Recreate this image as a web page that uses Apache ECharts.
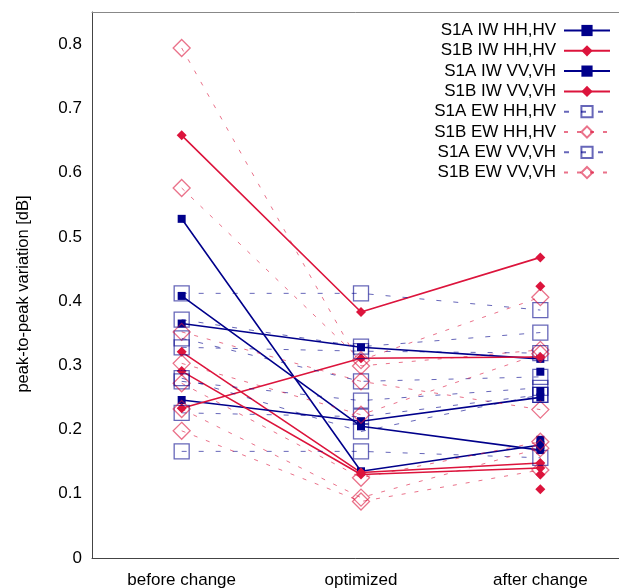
<!DOCTYPE html>
<html>
<head>
<meta charset="utf-8">
<script src="https://cdn.jsdelivr.net/npm/echarts@6/dist/echarts.min.js"></script>
<style>
html, body { margin: 0; padding: 0; background: #fff; }
#chart { width: 619px; height: 588px; }
</style>
</head>
<body>
<div id="chart"></div>
<script>
var categories = ['before change', 'optimized', 'after change'];

// one row per line: [before change, optimized, after change]
var s1aIwHH = [
	[0.528, 0.135, 0.176],
	[0.365, 0.328, 0.310],
	[null, null, 0.290]
];
var s1bIwHH = [
	[0.658, 0.383, 0.468],
	[0.321, 0.133, 0.148],
	[null, null, 0.423]
];
var s1aIwVV = [
	[0.408, 0.205, 0.168],
	[0.246, 0.213, 0.250],
	[null, null, 0.260],
	[null, null, 0.184]
];
var s1bIwVV = [
	[0.291, 0.130, 0.140],
	[0.233, 0.311, 0.313],
	[null, null, 0.130],
	[null, null, 0.107]
];
var s1aEwHH = [
	[0.412, 0.412, 0.386],
	[0.342, 0.275, 0.282],
	[0.275, 0.245, 0.265],
	[0.166, 0.166, 0.156]
];
var s1bEwHH = [
	[0.794, 0.299, 0.324],
	[0.352, 0.275, 0.231],
	[0.272, 0.125, 0.181],
	[0.198, 0.088, 0.137]
];
var s1aEwVV = [
	[0.371, 0.329, 0.351],
	[0.328, 0.322, 0.319],
	[0.226, 0.220, 0.254],
	[0.280, 0.197, 0.254]
];
var s1bEwVV = [
	[0.576, 0.308, 0.406],
	[0.303, 0.223, 0.318],
	[0.232, 0.094, 0.171]
];

var blue = '#00008b';
var red = '#dc143c';
var fontName = '"Liberation Sans", Arial, sans-serif';

var styles = {
	iwBlue: {symbol: 'rect', size: 8, color: blue, width: 1.6, type: 'solid', fill: blue, opacity: 1},
	iwRed: {symbol: 'diamond', size: 10, color: red, width: 1.6, type: 'solid', fill: red, opacity: 1},
	ewBlue: {symbol: 'rect', size: 15, color: blue, width: 1, type: [5, 12], fill: 'rgba(0,0,0,0)', opacity: 0.6},
	ewRed: {symbol: 'diamond', size: 17, color: red, width: 1, type: [4, 9], fill: 'rgba(0,0,0,0)', opacity: 0.6}
};

function makeSeries(name, lines, st){
	return lines.map(function(vals){
		return {
			name: name,
			type: 'line',
			data: vals,
			connectNulls: false,
			symbol: st.symbol,
			symbolSize: st.size,
			showAllSymbol: true,
			lineStyle: {color: st.color, width: st.width, type: st.type, opacity: st.opacity},
			itemStyle: {color: st.fill, borderColor: st.color, borderWidth: st.fill === st.color ? 0 : 1.3, opacity: st.opacity},
			emphasis: {disabled: true}
		};
	});
}

var series = [].concat(
	makeSeries('S1A IW HH,HV', s1aIwHH, styles.iwBlue),
	makeSeries('S1B IW HH,HV', s1bIwHH, styles.iwRed),
	makeSeries('S1A IW VV,VH', s1aIwVV, styles.iwBlue),
	makeSeries('S1B IW VV,VH', s1bIwVV, styles.iwRed),
	makeSeries('S1A EW HH,HV', s1aEwHH, styles.ewBlue),
	makeSeries('S1B EW HH,HV', s1bEwHH, styles.ewRed),
	makeSeries('S1A EW VV,VH', s1aEwVV, styles.ewBlue),
	makeSeries('S1B EW VV,VH', s1bEwVV, styles.ewRed)
);

var chart = echarts.init(document.getElementById('chart'));
var option = {
	backgroundColor: '#fff',
	animation: false,
	textStyle: {fontFamily: fontName},
	// plot frame runs past the right edge of the picture
	grid: {left: 92, right: -11, top: 12, bottom: 30, show: false, outerBoundsMode: 'none', containLabel: false},
	legend: {
		orient: 'vertical',
		right: 3,
		top: 17,
		align: 'right',
		itemWidth: 46,
		itemHeight: 14,
		itemGap: 3.3,
		textStyle: {fontSize: 17, color: '#000', fontFamily: fontName, padding: [0, 3, 0, 0]},
		data: ['S1A IW HH,HV', 'S1B IW HH,HV', 'S1A IW VV,VH', 'S1B IW VV,VH',
			'S1A EW HH,HV', 'S1B EW HH,HV', 'S1A EW VV,VH', 'S1B EW VV,VH']
	},
	xAxis: [
		{
			type: 'category',
			data: categories,
			boundaryGap: true,
			axisLine: {lineStyle: {color: '#444', width: 1}},
			axisTick: {inside: true, alignWithLabel: true, length: 7, lineStyle: {color: '#444'}},
			axisLabel: {fontSize: 17, color: '#000', margin: 14, fontFamily: fontName},
			splitLine: {show: false}
		},
		{
			type: 'category',
			position: 'top',
			data: categories,
			boundaryGap: true,
			axisLine: {lineStyle: {color: '#888', width: 1}},
			axisTick: {inside: true, alignWithLabel: true, length: 7, lineStyle: {color: '#666'}},
			axisLabel: {show: false},
			splitLine: {show: false}
		}
	],
	yAxis: {
		type: 'value',
		min: 0,
		max: 0.85,
		interval: 0.1,
		name: 'peak-to-peak variation [dB]',
		nameLocation: 'middle',
		nameGap: 60,
		nameTextStyle: {fontSize: 16.5, color: '#000', fontFamily: fontName, padding: [0, 18, 0, 0]},
		axisLine: {show: true, lineStyle: {color: '#444', width: 1}},
		axisTick: {inside: true, length: 7, lineStyle: {color: '#444'}},
		axisLabel: {fontSize: 17, color: '#000', margin: 10, showMaxLabel: false, fontFamily: fontName},
		splitLine: {show: false}
	},
	series: series
};
chart.setOption(option);
</script>
</body>
</html>
